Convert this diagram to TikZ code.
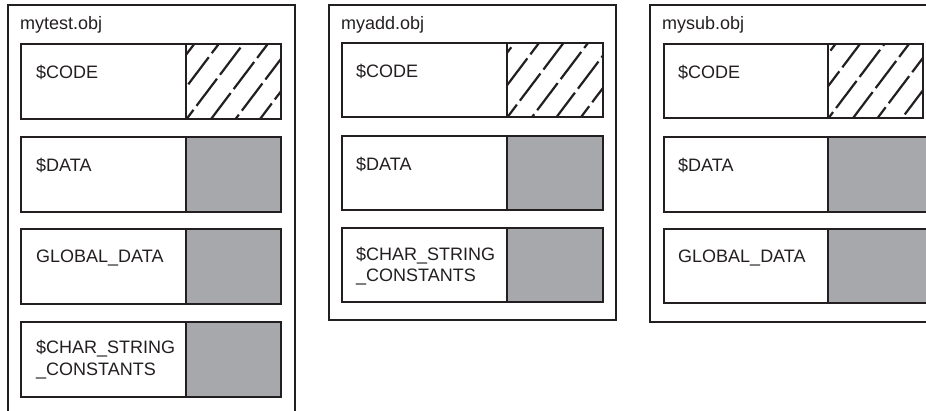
\documentclass[tikz,border=0pt]{standalone}
\usepackage{fontspec}
\setmainfont{Liberation Sans}
\definecolor{inkgray}{RGB}{35,31,32}
\definecolor{segfill}{RGB}{167,168,171}

\begin{document}
\begin{tikzpicture}%
        [x=1pt, y=-1pt,
        frame/.style={draw=inkgray, line width=1.2pt},
        segbox/.style={draw=inkgray, line width=1.8pt, fill=white},
        segfull/.style={draw=inkgray, line width=1.8pt, fill=segfill},
        hatch/.style={draw=inkgray, line width=2.2pt, dash pattern=on 34pt off 5pt},
        title/.style={anchor=base west, inner sep=0pt, text=inkgray, font=\fontsize{18}{21}\selectfont},
        seglabel/.style={anchor=base west, inner sep=0pt, align=left, text=inkgray, font=\fontsize{18}{21}\selectfont}]
%
\useasboundingbox (0,0) rectangle (926,411);
\clip (0,0) rectangle (926,411);
%
%% Object files
%%
\draw[frame] (8,425) -- (8,5) -- (295,5) -- (295,425);
\draw[frame] (329,5) rectangle (616,320);
\draw[frame] (650,5) rectangle (945,322);
\node[title] (mytest) at (20,30) {mytest.obj};
\node[title] (myadd) at (341,30) {myadd.obj};
\node[title] (mysub) at (662,30) {mysub.obj};
%%
%%
%% Segments of mytest.obj
%%
\draw[segbox] (21,44) rectangle (186,119);
\draw[segbox] (186,44) rectangle (281,119);
\draw[segbox] (21,137) rectangle (186,212);
\draw[segfull] (186,137) rectangle (281,212);
\draw[segbox] (21,229) rectangle (186,304);
\draw[segfull] (186,229) rectangle (281,304);
\draw[segbox] (21,322) rectangle (186,397);
\draw[segfull] (186,322) rectangle (281,397);
\node[seglabel] (testcode) at (36,79) {\$CODE};
\node[seglabel] (testdata) at (36,172) {\$DATA};
\node[seglabel] (testglobal) at (36,263) {GLOBAL\_DATA};
\node[seglabel] (teststring) at (36,375) {\$CHAR\_STRING\\\_CONSTANTS};
%%
%% Segments of myadd.obj
%%
\draw[segbox] (342,43) rectangle (507,117);
\draw[segbox] (507,43) rectangle (603,117);
\draw[segbox] (342,136) rectangle (507,210);
\draw[segfull] (507,136) rectangle (603,210);
\draw[segbox] (342,228) rectangle (507,302);
\draw[segfull] (507,228) rectangle (603,302);
\node[seglabel] (addcode) at (356,78) {\$CODE};
\node[seglabel] (adddata) at (356,171) {\$DATA};
\node[seglabel] (addstring) at (356,282) {\$CHAR\_STRING\\\_CONSTANTS};
%%
%% Segments of mysub.obj
%%
\draw[segbox] (664,44) rectangle (828,118);
\draw[segbox] (828,44) rectangle (923,118);
\draw[segbox] (664,137) rectangle (828,212);
\draw[segfull] (828,137) rectangle (927,212);
\draw[segbox] (664,229) rectangle (828,303);
\draw[segfull] (828,229) rectangle (927,303);
\node[seglabel] (subcode) at (678,79) {\$CODE};
\node[seglabel] (subdata) at (678,172) {\$DATA};
\node[seglabel] (subglobal) at (678,263) {GLOBAL\_DATA};
%%
%%
%% Hatching of the code segments
%%
\begin{scope}
\clip (186,44) rectangle (281,119);
\draw[hatch, dash phase=4pt] (130,129) -- ++(68,-90);
\draw[hatch, dash phase=22pt] (154.5,129) -- ++(68,-90);
\draw[hatch, dash phase=10pt] (179,129) -- ++(68,-90);
\draw[hatch, dash phase=28pt] (203.5,129) -- ++(68,-90);
\draw[hatch, dash phase=16pt] (228,129) -- ++(68,-90);
\draw[hatch, dash phase=2pt] (252.5,129) -- ++(68,-90);
\draw[hatch, dash phase=20pt] (277,129) -- ++(68,-90);
\end{scope}
\begin{scope}
\clip (507,43) rectangle (603,117);
\draw[hatch, dash phase=12pt] (451,127) -- ++(68,-90);
\draw[hatch, dash phase=26pt] (475.5,127) -- ++(68,-90);
\draw[hatch, dash phase=6pt] (500,127) -- ++(68,-90);
\draw[hatch, dash phase=18pt] (524.5,127) -- ++(68,-90);
\draw[hatch, dash phase=30pt] (549,127) -- ++(68,-90);
\draw[hatch, dash phase=8pt] (573.5,127) -- ++(68,-90);
\draw[hatch, dash phase=24pt] (598,127) -- ++(68,-90);
\end{scope}
\begin{scope}
\clip (828,44) rectangle (923,118);
\draw[hatch, dash phase=20pt] (772,128) -- ++(68,-90);
\draw[hatch, dash phase=2pt] (796.5,128) -- ++(68,-90);
\draw[hatch, dash phase=14pt] (821,128) -- ++(68,-90);
\draw[hatch, dash phase=28pt] (845.5,128) -- ++(68,-90);
\draw[hatch, dash phase=8pt] (870,128) -- ++(68,-90);
\draw[hatch, dash phase=22pt] (894.5,128) -- ++(68,-90);
\draw[hatch, dash phase=12pt] (919,128) -- ++(68,-90);
\end{scope}
%%
%% Borders of the code segments again
%%
\draw[segbox, fill=none] (186,44) rectangle (281,119);
\draw[segbox, fill=none] (507,43) rectangle (603,117);
\draw[segbox, fill=none] (828,44) rectangle (923,118);
\end{tikzpicture}
\end{document}
